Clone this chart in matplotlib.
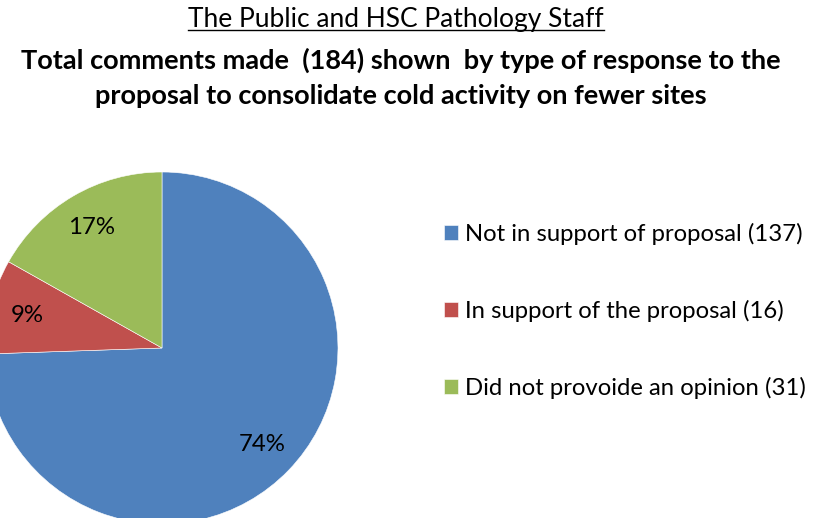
import matplotlib.pyplot as plt
from matplotlib.lines import Line2D

plt.rcParams['font.family'] = ['Lato', 'DejaVu Sans']

labels = ['Not in support of proposal (137)', 'In support of the proposal (16)',
          'Did not provoide an opinion (31)']
counts = [137, 16, 31]
colors = ['#4f81bd', '#c0504d', '#9bbb59']

fig = plt.figure(figsize=(8.17, 5.18), dpi=100)
ax = fig.add_axes([0, 0, 1, 1])

wedges, texts, autotexts = ax.pie(counts, colors=colors, startangle=90, counterclock=False,
                                  center=(162, 170), radius=176, autopct='%.0f%%',
                                  pctdistance=0.79, frame=True,
                                  wedgeprops=dict(linewidth=0.4, edgecolor='white'),
                                  textprops=dict(fontsize=17.3, color='black'))
ax.set_xlim(0, 817)
ax.set_ylim(0, 518)
ax.set_aspect('equal')
ax.axis('off')

t = fig.text(0.485, 1 - 20 / 518, 'The Public and HSC Pathology Staff', ha='center', va='center',
             fontsize=19)
fig.text(0.49, 1 - 60 / 518, 'Total comments made  (184) shown  by type of response to the',
         ha='center', va='center', fontsize=19.5, fontweight='bold')
fig.text(0.49, 1 - 96 / 518, 'proposal to consolidate cold activity on fewer sites',
         ha='center', va='center', fontsize=19.5, fontweight='bold')

# underline for the first title line
fig.canvas.draw()
bb = t.get_window_extent().transformed(fig.transFigure.inverted())
fig.add_artist(Line2D([bb.x0, bb.x1], [bb.y0 + 0.004, bb.y0 + 0.004], color='black',
                      linewidth=1.0, transform=fig.transFigure))

fig.legend(wedges, labels, loc='center left', bbox_to_anchor=(434 / 817, 1 - 311 / 518),
           frameon=False, fontsize=17.2, handlelength=0.6, handleheight=0.6,
           handletextpad=0.3, labelspacing=2.3, borderaxespad=0)

fig.savefig('out.png', dpi=100)
